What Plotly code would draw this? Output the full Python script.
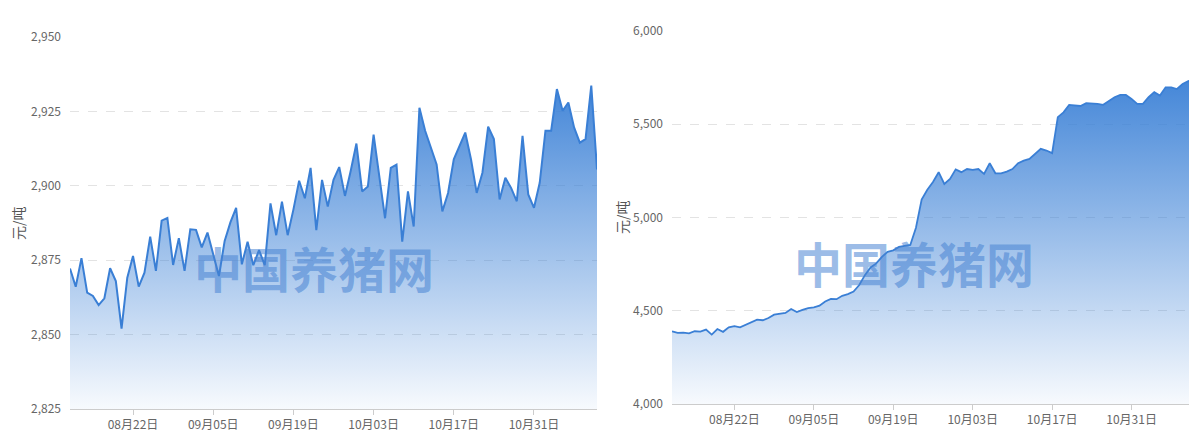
import pandas as pd
import plotly.graph_objects as go

W, H = 1189, 431

# Daily prices, 08/11 through 11/11
dates = pd.date_range("2023-08-11", "2023-11-11", freq="D")

left_prices = [
    2872.2, 2866.1, 2875.7, 2864.1, 2863.0, 2859.9, 2862.2, 2872.3, 2868.0, 2852.0,
    2869.1, 2876.4, 2866.1, 2870.8, 2882.9, 2871.4, 2888.3, 2889.2, 2873.4, 2882.4,
    2871.4, 2885.4, 2885.2, 2879.3, 2884.3, 2877.4, 2869.7, 2881.5, 2887.7, 2892.6,
    2873.6, 2881.2, 2873.3, 2878.4, 2873.3, 2894.1, 2883.4, 2894.7, 2883.4, 2892.0,
    2901.7, 2895.8, 2906.0, 2885.1, 2902.0, 2893.0, 2902.0, 2906.3, 2896.6, 2905.0,
    2914.2, 2898.1, 2899.8, 2917.2, 2903.0, 2889.1, 2906.0, 2907.1, 2881.2, 2898.1,
    2886.3, 2926.2, 2918.5, 2912.8, 2907.2, 2891.4, 2897.6, 2908.9, 2913.4, 2917.9,
    2908.9, 2897.6, 2904.4, 2919.9, 2915.7, 2895.4, 2902.7, 2899.3, 2894.8, 2916.8,
    2897.1, 2892.6, 2901.0, 2918.5, 2918.5, 2932.5, 2925.2, 2928.0, 2919.6, 2914.5,
    2915.7, 2933.7, 2905.5,
]

right_prices = [
    4390, 4381, 4383, 4379, 4390, 4388, 4399, 4372, 4402, 4387,
    4411, 4417, 4411, 4426, 4438, 4452, 4449, 4461, 4479, 4484,
    4488, 4509, 4493, 4505, 4514, 4518, 4527, 4550, 4564, 4562,
    4580, 4589, 4603, 4638, 4691, 4732, 4754, 4789, 4816, 4824,
    4842, 4848, 4853, 4945, 5096, 5149, 5190, 5243, 5180, 5207,
    5258, 5243, 5260, 5255, 5260, 5234, 5291, 5237, 5237, 5246,
    5260, 5291, 5305, 5314, 5341, 5368, 5359, 5345, 5538, 5564,
    5604, 5600, 5598, 5613, 5613, 5609, 5604, 5627, 5645, 5657,
    5657, 5636, 5609, 5609, 5645, 5672, 5654, 5698, 5698, 5689,
    5716, 5731, 5740,
]

tick_dates = pd.to_datetime(["2023-08-22", "2023-09-05", "2023-09-19",
                             "2023-10-03", "2023-10-17", "2023-10-31"])
tick_text = ["08月22日", "09月05日", "09月19日", "10月03日", "10月17日", "10月31日"]

unit_label = "元/吨"
watermark = "中国养猪网"

LINE = "#3a7fd5"
TICK_FONT = dict(family="Noto Sans CJK SC, Noto Sans, sans-serif", size=12, color="#666666")


def px_x(p):
    return p / W


def px_y(p):
    return 1 - p / H


def area(x, y, axis_min, xa, ya, width):
    return go.Scatter(
        x=x, y=y, mode="lines", xaxis=xa, yaxis=ya,
        line=dict(color=LINE, width=width),
        fill="tozeroy",
        fillgradient=dict(
            type="vertical",
            colorscale=[[0, "rgba(58,128,214,0.04)"], [1, "rgba(58,128,214,0.95)"]],
            start=axis_min, stop=max(y),
        ),
        hoverinfo="x+y", showlegend=False,
    )


fig = go.Figure()
fig.add_trace(area(dates, left_prices, 2825, "x", "y", 2))
fig.add_trace(area(dates, right_prices, 4000, "x2", "y2", 1.8))

xcommon = dict(
    type="date", tickvals=tick_dates, ticktext=tick_text, tickfont=TICK_FONT,
    showgrid=False, showline=True, linecolor="#cccccc", linewidth=1,
    ticks="outside", ticklen=5, tickcolor="#cccccc", zeroline=False,
    automargin=False,
)
ycommon = dict(
    tickformat=",d", tickfont=TICK_FONT, showgrid=True, gridcolor="#e3e3e3",
    griddash="dash", gridwidth=1, zeroline=False, showline=False,
    ticks="", ticklabelstandoff=8, automargin=False,
)

fig.update_layout(
    width=W, height=H, margin=dict(l=0, r=0, t=0, b=0, autoexpand=False),
    paper_bgcolor="white", plot_bgcolor="white",
    xaxis=dict(**xcommon, domain=[px_x(70), px_x(597)], anchor="y",
               range=["2023-08-11", "2023-11-11"]),
    yaxis=dict(**ycommon, domain=[px_y(409), px_y(37)], anchor="x",
               range=[2825, 2950], dtick=25, tick0=2825),
    xaxis2=dict(**xcommon, domain=[px_x(672), 1.0], anchor="y2",
                range=["2023-08-11", "2023-11-10 03:00"]),
    yaxis2=dict(**ycommon, domain=[px_y(404), px_y(31)], anchor="x2",
                range=[4000, 6000], dtick=500, tick0=4000),
)

annotations = []
for cx, cy in [(18, 223), (622, 217)]:
    annotations.append(dict(
        text=unit_label, xref="paper", yref="paper", x=px_x(cx), y=px_y(cy),
        xanchor="center", yanchor="middle", textangle=-90, showarrow=False,
        font=dict(family="Noto Sans CJK SC, sans-serif", size=14, color="#555555"),
    ))
for cx, cy in [(314, 267), (914, 262)]:
    annotations.append(dict(
        text=f"<b>{watermark}</b>", xref="paper", yref="paper", x=px_x(cx), y=px_y(cy),
        xanchor="center", yanchor="middle", showarrow=False,
        font=dict(family="Noto Sans CJK SC, sans-serif", size=48,
                  color="rgba(70,130,210,0.55)"),
    ))
fig.update_layout(annotations=annotations)

fig.write_html("out.html")
